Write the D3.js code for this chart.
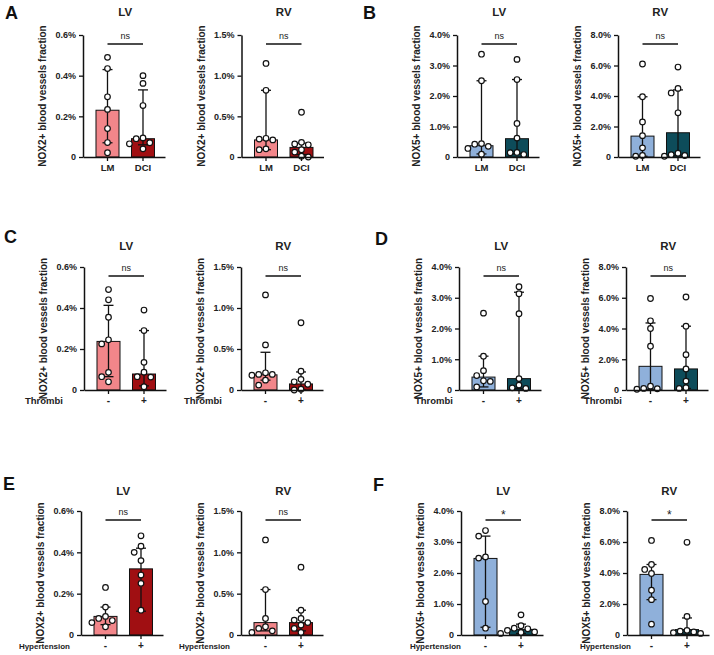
<!DOCTYPE html>
<html><head><meta charset="utf-8">
<script src="https://cdn.jsdelivr.net/npm/d3@7"></script>
<style>body{margin:0;background:#fff}svg{display:block}text{font-family:Arial,"Liberation Sans",sans-serif}</style>
</head><body><svg id="c" width="714" height="655"></svg>
<script>
// ---------- data ----------
const catsGroup = ["LM", "DCI"];
const catsSign = ["-", "+"];
const rowLabelC = "Thrombi";
const rowLabelE = "Hypertension";
const ticksNOX2LV = [0, 0.2, 0.4, 0.6];
const ticksNOX2RV = [0, 0.5, 1.0, 1.5];
const ticksNOX5LV = [0, 1, 2, 3, 4];
const ticksNOX5RV = [0, 2, 4, 6, 8];
const labelNOX2 = "NOX2+ blood vessels fraction";
const labelNOX5 = "NOX5+ blood vessels fraction";

const A_LV_bars = [0.23, 0.09];
const A_LV_err = [[0.07, 0.43], [0.06, 0.33]];
const A_LV_pts = [[0.49, 0.435, 0.296, 0.234, 0.14, 0.071, 0.021], [0.40, 0.362, 0.253, 0.094, 0.09, 0.07, 0.065, 0.04]];
const A_RV_bars = [0.21, 0.118];
const A_RV_err = [[0.09, 0.82], [0.03, 0.17]];
const A_RV_pts = [[1.15, 0.82, 0.23, 0.22, 0.21, 0.10, 0.09], [0.55, 0.18, 0.16, 0.15, 0.09, 0.06, 0.01, 0.0]];

const B_LV_bars = [0.37, 0.60];
const B_LV_err = [[0.1, 2.50], [0.1, 2.54]];
const B_LV_pts = [[3.37, 2.5, 0.44, 0.42, 0.35, 0.28, 0.09], [3.2, 2.54, 1.1, 0.62, 0.15, 0.14, 0.08]];
const B_RV_bars = [1.37, 1.59];
const B_RV_err = [[0.05, 3.95], [0.1, 4.4]];
const B_RV_pts = [[6.1, 3.95, 2.3, 1.4, 0.6, 0.1, 0.05], [5.9, 4.5, 4.2, 2.9, 0.25, 0.15, 0.1, 0.05]];

const C_LV_bars = [0.237, 0.078];
const C_LV_err = [[0.065, 0.413], [0.02, 0.29]];
const C_LV_pts = [[0.49, 0.44, 0.355, 0.245, 0.225, 0.086, 0.065, 0.04], [0.39, 0.29, 0.135, 0.087, 0.065, 0.063, 0.016]];
const C_RV_bars = [0.185, 0.074];
const C_RV_err = [[0.12, 0.46], [0.0, 0.22]];
const C_RV_pts = [[1.16, 0.55, 0.21, 0.19, 0.19, 0.18, 0.12, 0.06], [0.82, 0.23, 0.13, 0.10, 0.07, 0.01, 0.0]];

const D_LV_bars = [0.42, 0.37];
const D_LV_err = [[0.1, 1.10], [0.05, 3.18]];
const D_LV_pts = [[2.5, 1.1, 0.63, 0.47, 0.3, 0.28, 0.1], [3.36, 3.13, 2.48, 0.37, 0.16, 0.07, 0.05]];
const D_RV_bars = [1.54, 1.37];
const D_RV_err = [[0.05, 4.36], [0.1, 4.15]];
const D_RV_pts = [[5.95, 4.5, 4.0, 2.85, 0.25, 0.1, 0.08, 0.05], [6.05, 4.15, 2.3, 1.37, 0.58, 0.15, 0.1]];

const E_LV_bars = [0.09, 0.32];
const E_LV_err = [[0.05, 0.135], [0.115, 0.42]];
const E_LV_pts = [[0.23, 0.135, 0.09, 0.08, 0.07, 0.06, 0.04], [0.48, 0.43, 0.40, 0.36, 0.29, 0.25, 0.12]];
const E_RV_bars = [0.15, 0.15];
const E_RV_err = [[0.05, 0.55], [0.05, 0.3]];
const E_RV_pts = [[1.15, 0.55, 0.2, 0.1, 0.08, 0.05, 0.03], [0.82, 0.3, 0.2, 0.18, 0.15, 0.12, 0.08, 0.03]];

const F_LV_bars = [2.47, 0.18];
const F_LV_err = [[0.25, 3.19], [0.05, 0.35]];
const F_LV_pts = [[3.37, 3.19, 2.52, 2.48, 1.08, 0.22], [0.65, 0.3, 0.22, 0.2, 0.15, 0.1, 0.08, 0.05]];
const F_RV_bars = [3.91, 0.35];
const F_RV_err = [[2.28, 4.55], [0.05, 1.1]];
const F_RV_pts = [[6.1, 4.55, 4.23, 3.97, 2.89, 2.28, 0.7], [5.98, 1.2, 0.3, 0.25, 0.2, 0.15, 0.1]];

const sigLabels = ["ns", "ns", "ns", "ns", "ns", "ns", "ns", "ns", "ns", "ns", "*", "*"];

// ---------- styles ----------
const colNOX2 = ["#F2868A", "#A00F12"];
const colNOX5 = ["#8FB0DA", "#0D4C5A"];

const svg = d3.select("#c");
const fmt = d => d === 0 ? "0" : d.toFixed(1) + "%";
const R = 2.8;

function swarm(vals, cx, y, r) {
  const placed = [];
  const sorted = vals.slice().sort((a, b) => b - a);
  const d = 2 * r + 1.2;
  for (const v of sorted) {
    const yy = y(v);
    for (const k of [0, -1, 1, -2, 2, -3, 3]) {
      const xx = cx + k * d;
      if (placed.every(p => Math.hypot(p.x - xx, p.y - yy) >= 2 * r + 0.8)) { placed.push({x: xx, y: yy}); break; }
    }
  }
  return placed;
}

function panel(c) {
  const g = svg.append("g");
  const y = d3.scaleLinear().domain([0, c.max]).range([c.yZero, c.yTop]);
  const x = d3.scaleBand().domain(c.cats).range([c.x0, c.x0 + 82])
    .paddingInner(0.352).paddingOuter(0.331).align(0.553);
  const bw = x.bandwidth();
  const cx = c.cats.map(k => x(k) + bw / 2);

  g.selectAll("rect.bar").data(c.bars).join("rect")
    .attr("x", (d, i) => x(c.cats[i])).attr("width", bw)
    .attr("y", d => y(d)).attr("height", d => y(0) - y(d))
    .attr("fill", (d, i) => c.colors[i]).attr("stroke", "#111").attr("stroke-width", 1);

  c.err.forEach((e, i) => {
    g.append("line").attr("x1", cx[i]).attr("x2", cx[i]).attr("y1", y(e[0])).attr("y2", y(e[1]))
      .attr("stroke", "#111").attr("stroke-width", 1.3);
    [e[0], e[1]].forEach(v => g.append("line").attr("x1", cx[i] - 5).attr("x2", cx[i] + 5)
      .attr("y1", y(v)).attr("y2", y(v)).attr("stroke", "#111").attr("stroke-width", 1.3));
  });

  c.pts.forEach((arr, i) => {
    const pos = swarm(arr, cx[i], y, R);
    g.selectAll(null).data(pos).join("circle")
      .attr("cx", p => p.x).attr("cy", p => p.y).attr("r", R)
      .attr("fill", "#fff").attr("stroke", "#111").attr("stroke-width", 1.2);
  });

  const ya = g.append("g").attr("transform", `translate(${c.x0},0)`)
    .call(d3.axisLeft(y).tickValues(c.ticks).tickFormat(fmt).tickSize(4).tickSizeOuter(0));
  ya.select(".domain").attr("stroke", "#111").attr("stroke-width", 1.5);
  ya.selectAll(".tick line").attr("stroke", "#111").attr("stroke-width", 1.3);
  ya.selectAll(".tick text").attr("font-size", 9).attr("font-weight", "bold").attr("fill", "#222")
    .attr("font-family", "Arial, 'Liberation Sans', sans-serif");

  const xa = g.append("g").attr("transform", `translate(0,${c.yZero})`)
    .call(d3.axisBottom(x).tickSize(4).tickSizeOuter(0).tickPadding(3));
  xa.select(".domain").attr("stroke", "#111").attr("stroke-width", 1.5);
  xa.selectAll(".tick line").attr("stroke", "#111").attr("stroke-width", 1.3);
  xa.selectAll(".tick text").attr("font-size", c.sign ? 10 : 9.5).attr("font-weight", "bold").attr("fill", "#222")
    .attr("font-family", "Arial, 'Liberation Sans', sans-serif");

  if (c.rowLabel) {
    g.append("text").attr("x", c.labEnd).attr("y", c.yZero + 14).attr("text-anchor", "end")
      .attr("font-size", c.rowLabel === rowLabelE ? 8 : 9.5).attr("font-weight", "bold").attr("fill", "#222")
      .text(c.rowLabel);
  }

  g.append("text").attr("transform", `translate(${c.x0 - 37},${(c.yTop + c.yZero) / 2}) rotate(-90)`)
    .attr("text-anchor", "middle").attr("font-size", 10).attr("font-weight", "bold").attr("fill", "#222")
    .text(c.ylabel);

  g.append("text").attr("x", (cx[0] + cx[1]) / 2).attr("y", c.titleY + 4).attr("text-anchor", "middle")
    .attr("font-size", 11.5).attr("font-weight", "bold").attr("fill", "#222").text(c.title);

  g.append("line").attr("x1", cx[0]).attr("x2", cx[1]).attr("y1", c.yTop + 9).attr("y2", c.yTop + 9)
    .attr("stroke", "#111").attr("stroke-width", 1.3);
  g.append("text").attr("x", (cx[0] + cx[1]) / 2).attr("y", c.sig === "*" ? c.yTop + 8 : c.yTop + 3.5)
    .attr("text-anchor", "middle").attr("font-size", c.sig === "*" ? 12 : 9).attr("fill", "#222").text(c.sig);
}

const rows = [
  {yTop: 35, yZero: 157, titleY: 12},
  {yTop: 267, yZero: 390, titleY: 246},
  {yTop: 511, yZero: 635, titleY: 491}
];

const panels = [
  {x0: 83, r: 0, max: 0.6, ticks: ticksNOX2LV, bars: A_LV_bars, err: A_LV_err, pts: A_LV_pts, colors: colNOX2, ylabel: labelNOX2, title: "LV", cats: catsGroup},
  {x0: 241.5, r: 0, max: 1.5, ticks: ticksNOX2RV, bars: A_RV_bars, err: A_RV_err, pts: A_RV_pts, colors: colNOX2, ylabel: labelNOX2, title: "RV", cats: catsGroup},
  {x0: 457, r: 0, max: 4, ticks: ticksNOX5LV, bars: B_LV_bars, err: B_LV_err, pts: B_LV_pts, colors: colNOX5, ylabel: labelNOX5, title: "LV", cats: catsGroup},
  {x0: 618, r: 0, max: 8, ticks: ticksNOX5RV, bars: B_RV_bars, err: B_RV_err, pts: B_RV_pts, colors: colNOX5, ylabel: labelNOX5, title: "RV", cats: catsGroup},
  {x0: 84, r: 1, max: 0.6, ticks: ticksNOX2LV, bars: C_LV_bars, err: C_LV_err, pts: C_LV_pts, colors: colNOX2, ylabel: labelNOX2, title: "LV", cats: catsSign, sign: true, rowLabel: rowLabelC, labEnd: 63},
  {x0: 241, r: 1, max: 1.5, ticks: ticksNOX2RV, bars: C_RV_bars, err: C_RV_err, pts: C_RV_pts, colors: colNOX2, ylabel: labelNOX2, title: "RV", cats: catsSign, sign: true, rowLabel: rowLabelC, labEnd: 222},
  {x0: 459, r: 1, max: 4, ticks: ticksNOX5LV, bars: D_LV_bars, err: D_LV_err, pts: D_LV_pts, colors: colNOX5, ylabel: labelNOX5, title: "LV", cats: catsSign, sign: true, rowLabel: rowLabelC, labEnd: 453},
  {x0: 626, r: 1, max: 8, ticks: ticksNOX5RV, bars: D_RV_bars, err: D_RV_err, pts: D_RV_pts, colors: colNOX5, ylabel: labelNOX5, title: "RV", cats: catsSign, sign: true, rowLabel: rowLabelC, labEnd: 622},
  {x0: 81, r: 2, max: 0.6, ticks: ticksNOX2LV, bars: E_LV_bars, err: E_LV_err, pts: E_LV_pts, colors: colNOX2, ylabel: labelNOX2, title: "LV", cats: catsSign, sign: true, rowLabel: rowLabelE, labEnd: 70},
  {x0: 241, r: 2, max: 1.5, ticks: ticksNOX2RV, bars: E_RV_bars, err: E_RV_err, pts: E_RV_pts, colors: colNOX2, ylabel: labelNOX2, title: "RV", cats: catsSign, sign: true, rowLabel: rowLabelE, labEnd: 230},
  {x0: 461, r: 2, max: 4, ticks: ticksNOX5LV, bars: F_LV_bars, err: F_LV_err, pts: F_LV_pts, colors: colNOX5, ylabel: labelNOX5, title: "LV", cats: catsSign, sign: true, rowLabel: rowLabelE, labEnd: 461},
  {x0: 627, r: 2, max: 8, ticks: ticksNOX5RV, bars: F_RV_bars, err: F_RV_err, pts: F_RV_pts, colors: colNOX5, ylabel: labelNOX5, title: "RV", cats: catsSign, sign: true, rowLabel: rowLabelE, labEnd: 631}
];

panels.forEach((p, i) => panel(Object.assign({}, rows[p.r], p, {sig: sigLabels[i]})));

const letters = [
  {t: "A", x: 5, y: 19}, {t: "B", x: 363, y: 19},
  {t: "C", x: 4, y: 243}, {t: "D", x: 375, y: 245},
  {t: "E", x: 3, y: 490}, {t: "F", x: 373, y: 491}
];
svg.selectAll("text.letter").data(letters).join("text").attr("class", "letter")
  .attr("x", d => d.x).attr("y", d => d.y).attr("font-size", 18).attr("font-weight", "bold").attr("fill", "#111")
  .text(d => d.t);
</script></body></html>
